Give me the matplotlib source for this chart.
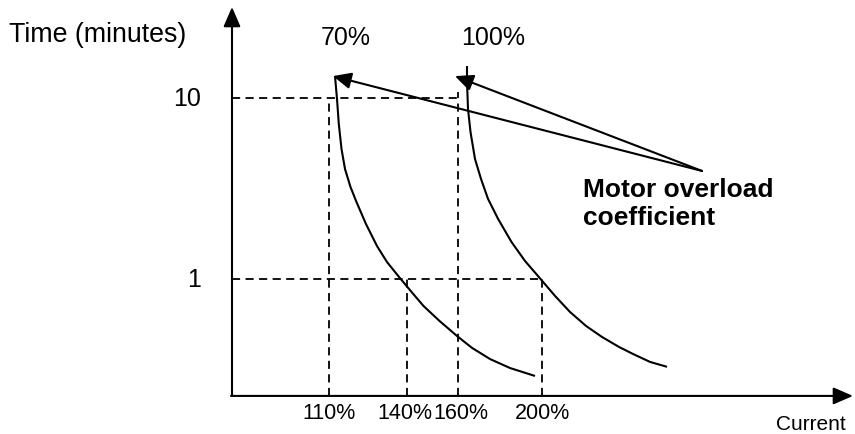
import numpy as np
import matplotlib
matplotlib.use("Agg")
import matplotlib.pyplot as plt

plt.rcParams['font.family'] = ['Liberation Sans', 'DejaVu Sans']

# ---------------- data ----------------
# x: position along the current axis, y: time in minutes (log scale)
curve70_x = [335, 337, 338.8, 341.5, 345, 350.5, 356.5, 366, 377, 387, 399, 411.5,
             423.5, 439.5, 457, 472, 490, 510, 535]
curve70_t = [13.2, 9.87, 7.18, 5.23, 4.05, 3.22, 2.66, 2.01, 1.52, 1.24, 1.026, 0.848,
             0.709, 0.586, 0.484, 0.416, 0.361, 0.322, 0.291]
curve100_x = [467, 467, 468, 470.5, 475, 481, 488, 498, 511.5, 525, 540.5,
              555, 570, 586, 602, 619, 633, 650, 667]
curve100_t = [15.0, 12.3, 8.70, 6.49, 4.60, 3.57, 2.77, 2.15, 1.60, 1.257, 1.00,
              0.806, 0.657, 0.550, 0.478, 0.421, 0.385, 0.348, 0.327]
curve_labels = ["70%", "100%"]

time_ticks = [10, 1]
time_tick_labels = ["10", "1"]
current_ticks = [329, 407, 458, 542]
current_tick_labels = ["110%", "140%", "160%", "200%"]
current_label_x = [329, 405, 461, 542]

# dashed guide lines
hline_t = [10, 1]
hline_end = [458, 542]
vline_x = [329, 407, 458, 542]
vline_top = [10, 1, 10.8, 1]

# annotation
annot_text = "Motor overload\ncoefficient"
annot_from = (702, 3.95)
annot_to_x = [333, 455]
annot_to_t = [13.2, 13.2]

# axes extents
origin_x, origin_t = 232, 0.2258
xaxis_end = 853
yaxis_end = 31.8

# ---------------- figure ----------------
W, H = 855, 435
fig = plt.figure(figsize=(W / 100, H / 100), dpi=100)
ax = fig.add_axes([0, 0, 1, 1])
ax.set_xlim(0, W)
ax.set_yscale('log')
ax.set_ylim(0.1391, 35.2)
ax.axis('off')

def fx(px):
    return px / W

def fy(py):
    return 1 - py / H

lw = 1.5
# axes with arrows
for xy, xytext in [((xaxis_end, origin_t), (origin_x - 1, origin_t)),
                   ((origin_x, yaxis_end), (origin_x, origin_t))]:
    ax.annotate('', xy=xy, xytext=xytext,
                arrowprops=dict(arrowstyle='-|>,head_length=0.6,head_width=0.26',
                                mutation_scale=20, lw=lw, color='black',
                                shrinkA=0, shrinkB=0))

# dashed guides
dash = (4.5, 3)
for t, xe in zip(hline_t, hline_end):
    ax.plot([origin_x, xe], [t, t], color='black', lw=1.3, dashes=dash)
for x, tt in zip(vline_x, vline_top):
    ax.plot([x, x], [origin_t, tt], color='black', lw=1.3, dashes=dash)

# curves
ax.plot(curve70_x, curve70_t, color='black', lw=lw, solid_capstyle='butt',
        solid_joinstyle='round')
ax.plot(curve100_x, curve100_t, color='black', lw=lw, solid_capstyle='butt',
        solid_joinstyle='round')

# annotation arrows
for x, t in zip(annot_to_x, annot_to_t):
    ax.annotate('', xy=(x, t), xytext=annot_from,
                arrowprops=dict(arrowstyle='-|>,head_length=0.55,head_width=0.25',
                                mutation_scale=20, lw=lw, color='black',
                                shrinkA=0, shrinkB=0))

# texts
fig.text(fx(9), fy(35), "Time (minutes)", fontsize=19.3, va='center', ha='left')
fig.text(fx(346), fy(38), curve_labels[0], fontsize=18, va='center', ha='center')
fig.text(fx(493), fy(38), curve_labels[1], fontsize=18, va='center', ha='center')

for t, lab in zip(time_ticks, time_tick_labels):
    ax.text(201, t, lab, fontsize=18, va='center', ha='right')

for x, lab in zip(current_label_x, current_tick_labels):
    ax.text(x, 0.182, lab, fontsize=15.5, va='center', ha='center')

fig.text(fx(846), fy(425), "Current", fontsize=15, va='center', ha='right')

fig.text(fx(583), fy(204), annot_text, fontsize=19, fontweight='bold',
         va='center', ha='left', linespacing=1.2)

fig.savefig("out.png", dpi=100)
